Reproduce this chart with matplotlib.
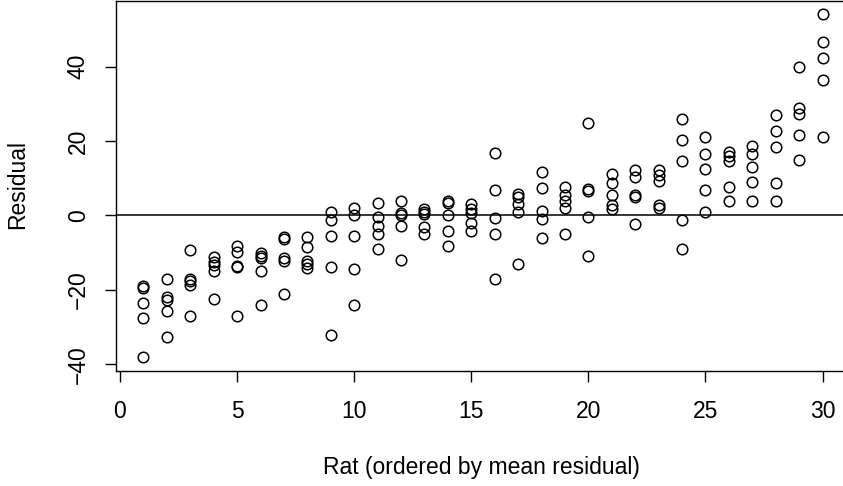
import numpy as np
import matplotlib
matplotlib.use("Agg")
import matplotlib.pyplot as plt

plt.rcParams["font.family"] = ["Liberation Sans", "DejaVu Sans"]

# Residuals for each rat (5 measurements per rat), rats ordered by mean residual
rat_residuals = [
    [-19.0, -19.4, -23.5, -27.6, -38.0],
    [-17.2, -21.9, -22.6, -25.6, -32.8],
    [-9.4, -17.0, -17.7, -18.8, -27.1],
    [-11.2, -12.6, -13.2, -15.0, -22.5],
    [-8.1, -9.9, -13.5, -13.8, -27.1],
    [-10.1, -10.8, -11.4, -15.0, -24.2],
    [-5.8, -6.2, -11.3, -12.3, -21.0],
    [-5.8, -8.6, -12.3, -13.1, -14.0],
    [0.9, -1.2, -5.6, -13.9, -32.1],
    [2.0, 0.2, -5.6, -14.3, -24.0],
    [3.4, -0.3, -2.9, -5.0, -9.1],
    [3.8, 0.8, 0.2, -2.8, -12.1],
    [1.7, 1.0, 0.3, -3.0, -5.1],
    [3.8, 3.3, 0.1, -4.1, -8.1],
    [3.2, 1.7, 0.8, -2.1, -4.2],
    [16.7, 6.9, -0.6, -4.9, -17.2],
    [5.8, 5.1, 3.1, 0.9, -13.1],
    [11.6, 7.3, 1.2, -0.9, -6.1],
    [7.7, 5.4, 4.0, 2.1, -5.1],
    [24.8, 7.1, 6.5, -0.3, -11.0],
    [11.2, 8.8, 5.4, 2.9, 1.8],
    [12.2, 10.3, 5.6, 4.9, -2.2],
    [12.2, 10.9, 9.4, 2.9, 1.9],
    [25.9, 20.3, 14.6, -1.1, -9.1],
    [21.0, 16.4, 12.5, 6.9, 0.9],
    [17.2, 16.0, 14.6, 7.6, 3.8],
    [18.6, 16.5, 13.0, 9.1, 3.8],
    [27.1, 22.8, 18.3, 8.7, 3.8],
    [40.0, 28.8, 27.3, 21.6, 14.8],
    [54.1, 46.7, 42.3, 36.5, 21.0],
]
x_ticks = [0, 5, 10, 15, 20, 25, 30]
y_ticks = [-40, -20, 0, 20, 40]

rat_index = []
residual = []
for i, vals in enumerate(rat_residuals, start=1):
    for v in vals:
        rat_index.append(i)
        residual.append(v)
rat_index = np.array(rat_index)
residual = np.array(residual)

W, H = 843, 486
fig = plt.figure(figsize=(W / 100, H / 100), dpi=100)

# plot region in pixels
left_px, right_px = 116.25, 849.7
top_px, bottom_px = 0.6, 370.5
ax = fig.add_axes([left_px / W, 1 - bottom_px / H,
                   (right_px - left_px) / W, (bottom_px - top_px) / H])

ax.plot(rat_index, residual, linestyle="none", marker="o", markersize=7.6,
        markerfacecolor="none", markeredgecolor="black", markeredgewidth=1.1)
ax.axhline(0, color="black", linewidth=1.1)

# 4% padding on each side, like R's default axis range
xr = rat_index.max() - rat_index.min()
yr = residual.max() - residual.min()
ax.set_xlim(rat_index.min() - 0.04 * xr, rat_index.max() + 0.04 * xr)
ax.set_ylim(residual.min() - 0.04 * yr, residual.max() + 0.04 * yr)


def fmt(t):
    return str(t).replace("-", "\u2212")


ax.set_xticks(x_ticks)
ax.set_yticks(y_ticks)
ax.set_xticklabels([fmt(t) for t in x_ticks])
ax.set_yticklabels([fmt(t) for t in y_ticks], rotation=90, va="center")
ax.tick_params(axis="both", direction="out", length=8, width=1.0,
               labelsize=16.5, color="black")
ax.tick_params(axis="x", pad=13)
ax.tick_params(axis="y", pad=11)
for s in ax.spines.values():
    s.set_linewidth(1.0)
    s.set_color("black")

fig.text(481 / W, 1 - 467 / H, "Rat (ordered by mean residual)",
         ha="center", va="center", fontsize=16.5)
fig.text(18 / W, 1 - 184 / H, "Residual", rotation=90,
         ha="center", va="center", fontsize=16.5)

fig.savefig("out.png", dpi=100)
